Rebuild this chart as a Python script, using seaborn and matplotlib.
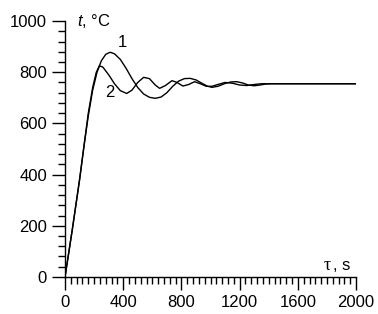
import numpy as np
import pandas as pd
import matplotlib
matplotlib.use("Agg")
import matplotlib.pyplot as plt
import seaborn as sns
from matplotlib.ticker import MultipleLocator

# curve 1 (time, s / temperature, C)
time_1 = [0, 50, 100, 130, 160, 190, 220, 250, 280, 310, 340, 380, 420, 460, 500,
          540, 580, 620, 660, 700, 740, 780, 820, 860, 900, 940, 980, 1010, 1050,
          1100, 1140, 1180, 1220, 1260, 1300, 1340, 1380, 1420, 2000]
temp_1 = [0, 185, 380, 510, 630, 730, 800, 845, 870, 878, 872, 850, 815, 775, 740,
          715, 702, 698, 703, 720, 745, 765, 775, 776, 770, 757, 745, 741, 745,
          756, 762, 763, 758, 750, 747, 750, 754, 755, 755]

# curve 2
time_2 = [0, 50, 100, 130, 160, 190, 215, 236, 260, 300, 340, 380, 424, 460, 500,
          540, 580, 620, 650, 690, 735, 770, 810, 850, 890, 930, 970, 1010, 1050,
          1100, 1150, 1200, 1250, 1300, 1350, 1400, 2000]
temp_2 = [0, 185, 380, 510, 640, 740, 800, 825, 820, 790, 755, 728, 717, 730, 760,
          780, 775, 750, 737, 748, 767, 760, 746, 752, 763, 755, 745, 745, 752,
          760, 757, 750, 748, 752, 755, 755, 755]

x_ticks = [0, 400, 800, 1200, 1600, 2000]
y_ticks = [0, 200, 400, 600, 800, 1000]

sns.set_style("ticks")
plt.rcParams['font.family'] = ['Liberation Sans', 'DejaVu Sans']
plt.rcParams['mathtext.fontset'] = 'custom'
plt.rcParams['mathtext.it'] = 'Liberation Sans:italic'
plt.rcParams['text.color'] = 'black'
plt.rcParams['xtick.labelcolor'] = 'black'
plt.rcParams['ytick.labelcolor'] = 'black'

fig = plt.figure(figsize=(3.78, 3.14), dpi=100)
ax = fig.add_axes([0.172, 0.118, 0.77, 0.815])

df1 = pd.DataFrame({"time": time_1, "temp": temp_1})
df2 = pd.DataFrame({"time": time_2, "temp": temp_2})
sns.lineplot(data=df1, x="time", y="temp", ax=ax, color="black", lw=1.0)
sns.lineplot(data=df2, x="time", y="temp", ax=ax, color="black", lw=1.0)

ax.set_xlim(0, 2000)
ax.set_ylim(0, 1000)
ax.set_xticks(x_ticks)
ax.set_yticks(y_ticks)
ax.xaxis.set_minor_locator(MultipleLocator(40))
ax.yaxis.set_minor_locator(MultipleLocator(40))
ax.set_xlabel("")
ax.set_ylabel("")

ax.tick_params(axis="both", which="major", length=9.5, width=1, labelsize=12, pad=3.5, color="black")
ax.tick_params(axis="both", which="minor", length=5, width=1, color="black")
for s in ["top", "right"]:
    ax.spines[s].set_visible(False)
for s in ["left", "bottom"]:
    ax.spines[s].set_linewidth(1)
    ax.spines[s].set_color("black")

# axis captions
ax.text(0.04, 1.0, "$t$, °C", transform=ax.transAxes, fontsize=12, ha="left", va="center")
ax.text(0.887, 0.045, "τ", transform=ax.transAxes, fontsize=13, ha="left", va="center",
        family=["Liberation Serif", "DejaVu Serif"])
ax.text(0.92, 0.045, ", s", transform=ax.transAxes, fontsize=12, ha="left", va="center")

# curve numbers
ax.text(0.198, 0.915, "1", transform=ax.transAxes, fontsize=12, ha="center", va="center")
ax.text(0.155, 0.72, "2", transform=ax.transAxes, fontsize=12, ha="center", va="center")

fig.savefig("out.png", dpi=100)
